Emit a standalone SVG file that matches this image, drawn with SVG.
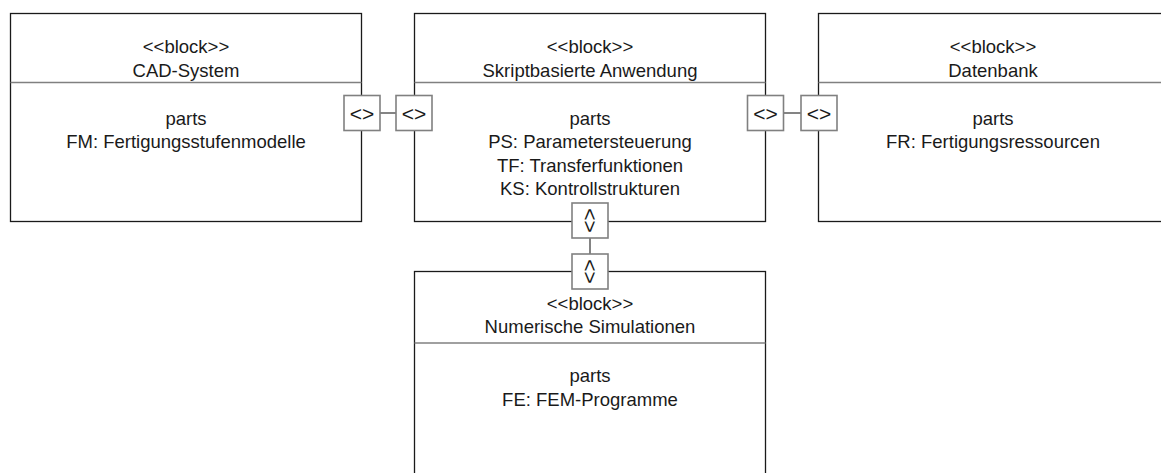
<svg xmlns="http://www.w3.org/2000/svg" width="1161" height="473" viewBox="0 0 1161 473">
<style>
  .box { fill: #ffffff; stroke: #1a1a1a; stroke-width: 1.3; }
  .div { stroke: #808080; stroke-width: 1.6; fill: none; }
  .port { fill: #ffffff; stroke: #808080; stroke-width: 1.6; }
  .conn { stroke: #505050; stroke-width: 1.4; fill: none; }
  text { font-family: "Liberation Sans", Arial, sans-serif; font-size: 18.5px; fill: #1a1a1a; text-anchor: middle; }
  .pt { font-size: 21px; dominant-baseline: central; }
</style>
<rect width="1161" height="473" fill="#ffffff"/>

<g id="connectors">
  <line class="conn" x1="380" y1="113" x2="396" y2="113"/>
  <line class="conn" x1="783" y1="113" x2="801" y2="113"/>
  <line class="conn" x1="590" y1="238" x2="590" y2="254"/>
</g>

<g id="cad-system">
  <rect class="box" x="10.5" y="13.5" width="351" height="208"/>
  <line class="div" x1="10.5" y1="82.5" x2="361.5" y2="82.5"/>
  <text x="186" y="53">&lt;&lt;block&gt;&gt;</text>
  <text x="186" y="77">CAD-System</text>
  <text x="186" y="125">parts</text>
  <text x="186" y="148">FM: Fertigungsstufenmodelle</text>
</g>

<g id="skriptbasierte-anwendung">
  <rect class="box" x="414.5" y="13.5" width="351" height="208"/>
  <line class="div" x1="414.5" y1="82.5" x2="765.5" y2="82.5"/>
  <text x="590" y="53">&lt;&lt;block&gt;&gt;</text>
  <text x="590" y="77">Skriptbasierte Anwendung</text>
  <text x="590" y="125">parts</text>
  <text x="590" y="148">PS: Parametersteuerung</text>
  <text x="590" y="172">TF: Transferfunktionen</text>
  <text x="590" y="195">KS: Kontrollstrukturen</text>
</g>

<g id="datenbank">
  <rect class="box" x="818.5" y="13.5" width="360" height="208"/>
  <line class="div" x1="818.5" y1="82.5" x2="1170" y2="82.5"/>
  <text x="993" y="53">&lt;&lt;block&gt;&gt;</text>
  <text x="993" y="77">Datenbank</text>
  <text x="993" y="125">parts</text>
  <text x="993" y="148">FR: Fertigungsressourcen</text>
</g>

<g id="numerische-simulationen">
  <rect class="box" x="414.5" y="271.5" width="351" height="220"/>
  <line class="div" x1="414.5" y1="343" x2="765.5" y2="343"/>
  <text x="590" y="310">&lt;&lt;block&gt;&gt;</text>
  <text x="590" y="333">Numerische Simulationen</text>
  <text x="590" y="382">parts</text>
  <text x="590" y="406">FE: FEM-Programme</text>
</g>

<g id="port-cad-right">
  <rect class="port" x="344" y="95.5" width="36" height="35"/>
  <text class="pt" x="362" y="113">&lt;&gt;</text>
</g>
<g id="port-skript-left">
  <rect class="port" x="396" y="95.5" width="36" height="35"/>
  <text class="pt" x="414" y="113">&lt;&gt;</text>
</g>
<g id="port-skript-right">
  <rect class="port" x="747.5" y="95.5" width="36" height="35"/>
  <text class="pt" x="765.5" y="113">&lt;&gt;</text>
</g>
<g id="port-datenbank-left">
  <rect class="port" x="801" y="95.5" width="36" height="35"/>
  <text class="pt" x="819" y="113">&lt;&gt;</text>
</g>
<g id="port-skript-bottom">
  <rect class="port" x="572" y="203" width="36" height="35"/>
  <text class="pt" x="0" y="0" transform="translate(590 220.5) rotate(90)">&lt;&gt;</text>
</g>
<g id="port-numerische-top">
  <rect class="port" x="572" y="254" width="36" height="35"/>
  <text class="pt" x="0" y="0" transform="translate(590 271.5) rotate(90)">&lt;&gt;</text>
</g>
</svg>
